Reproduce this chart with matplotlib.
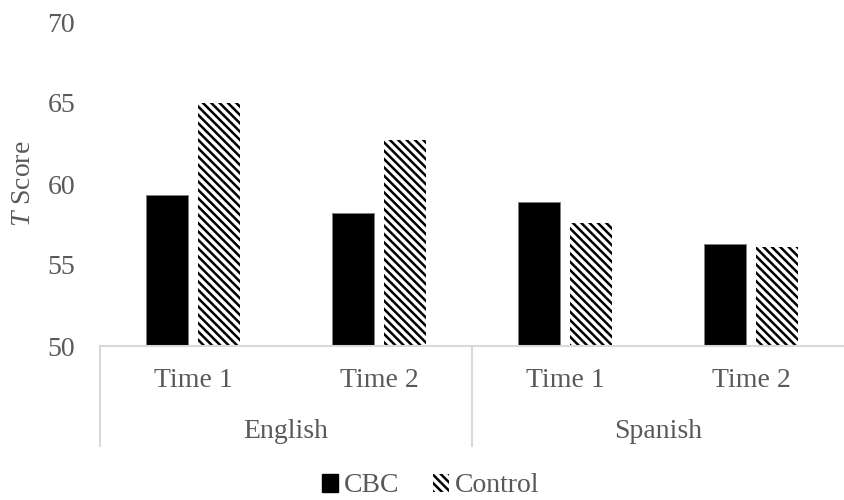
import numpy as np
import matplotlib
matplotlib.use('Agg')
import matplotlib.pyplot as plt
import matplotlib.transforms as mtransforms
from matplotlib.patches import Patch

plt.rcParams['font.family'] = 'Liberation Serif'
plt.rcParams['mathtext.fontset'] = 'custom'
plt.rcParams['mathtext.rm'] = 'Liberation Serif'
plt.rcParams['mathtext.it'] = 'Liberation Serif:italic'
plt.rcParams['hatch.linewidth'] = 1.8

groups = ['English', 'Spanish']
times = ['Time 1', 'Time 2', 'Time 1', 'Time 2']
cbc = [59.3, 58.2, 58.9, 56.3]
control = [65.0, 62.7, 57.6, 56.1]

txt = '#595959'     # text gray
grid = '#d9d9d9'    # axis line gray
hatch = '\\\\\\\\'

fig = plt.figure(figsize=(8.44, 5), dpi=100)
ax = fig.add_axes([0.1185, 0.308, 0.8815, 0.648])

x = np.arange(len(times))
w = 0.226
off = 0.142
ax.bar(x - off, cbc, w, color='black', edgecolor='#7f7f7f', linewidth=0.6, label='CBC')
ax.bar(x + off, control, w, color='white', edgecolor='black', hatch=hatch,
       linewidth=0, label='Control')

ax.set_xlim(-0.5, 3.5)
ax.set_ylim(50, 70)
ax.set_yticks([50, 55, 60, 65, 70])
ax.tick_params(axis='y', length=0, labelsize=20, labelcolor=txt, pad=18)
ax.set_xticks([])
for s in ['top', 'right', 'left']:
    ax.spines[s].set_visible(False)
ax.spines['bottom'].set_color(grid)
ax.spines['bottom'].set_linewidth(1.5)

ax.set_ylabel(r'$T$ Score', fontsize=20, color=txt, labelpad=8)

trans = mtransforms.blended_transform_factory(ax.transData, ax.transAxes)
for i, t in enumerate(times):
    ax.text(i, -0.105, t, transform=trans, ha='center', va='center',
            fontsize=20, color=txt)
for j, g in enumerate(groups):
    ax.text(2 * j + 0.5, -0.265, g, transform=trans, ha='center', va='center',
            fontsize=20, color=txt)
for xs in [-0.5, 1.5]:
    ax.plot([xs, xs], [0, -0.309], transform=trans, color=grid, lw=1.5,
            clip_on=False)

handles = [Patch(facecolor='black', edgecolor='black'),
           Patch(facecolor='white', edgecolor='black', hatch=hatch, linewidth=0)]
fig.legend(handles, ['CBC', 'Control'], loc='center',
           bbox_to_anchor=(0.51, 0.028), ncol=2, frameon=False, fontsize=20,
           labelcolor=txt, handlelength=0.6, handleheight=0.6,
           handletextpad=0.2, columnspacing=1.2, borderpad=0)

fig.savefig('out.png', dpi=100)
